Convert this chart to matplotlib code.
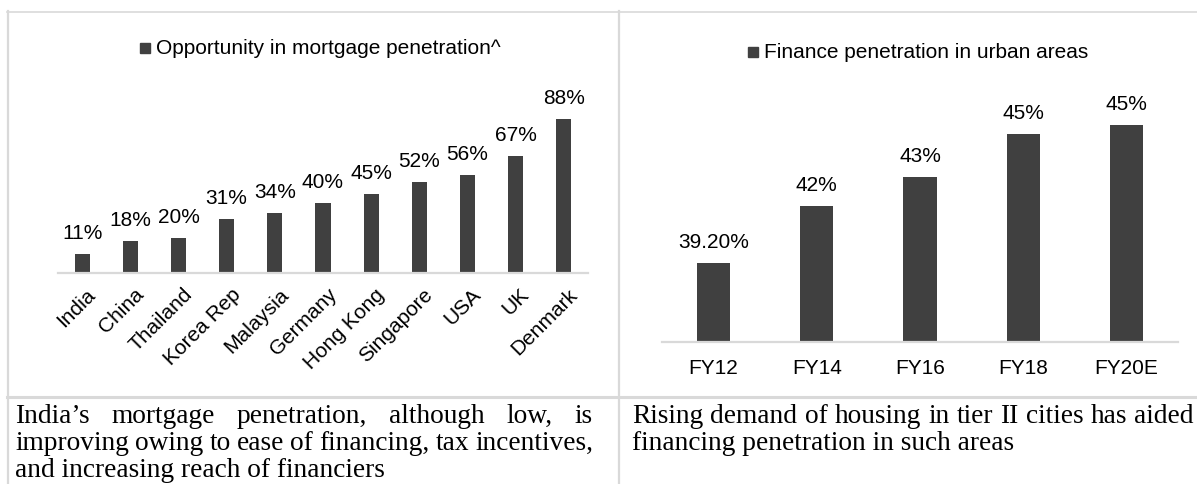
import matplotlib
matplotlib.use("Agg")
import matplotlib.pyplot as plt
from matplotlib.patches import Rectangle
from matplotlib.lines import Line2D

# ---------------- data ----------------
countries = ["India", "China", "Thailand", "Korea Rep", "Malaysia", "Germany",
             "Hong Kong", "Singapore", "USA", "UK", "Denmark"]
mortgage_pct = [11, 18, 20, 31, 34, 40, 45, 52, 56, 67, 88]
mortgage_labels = ["11%", "18%", "20%", "31%", "34%", "40%", "45%", "52%", "56%", "67%", "88%"]
left_legend = "Opportunity in mortgage penetration^"

years = ["FY12", "FY14", "FY16", "FY18", "FY20E"]
urban_pct = [39.2, 41.8, 43.1, 45.1, 45.5]
urban_labels = ["39.20%", "42%", "43%", "45%", "45%"]
right_legend = "Finance penetration in urban areas"

left_caption = ["India\u2019s mortgage penetration, although low, is",
                "improving owing to ease of financing, tax incentives,",
                "and increasing reach of financiers"]
right_caption = ["Rising demand of housing in tier II cities has aided",
                 "financing penetration in such areas"]

# ---------------- style ----------------
W, H = 1197, 484
BAR = "#404040"
GRID = "#d9d9d9"
SANS = "Liberation Sans"
SERIF = "Liberation Serif"
FS = 15

fig = plt.figure(figsize=(W / 100, H / 100), dpi=100)
fig.patch.set_facecolor("white")


def fax(x0, ytop, x1, ybot):
    return [x0 / W, 1 - ybot / H, (x1 - x0) / W, (ybot - ytop) / H]


def fx(x):
    return x / W


def fy(y):
    return 1 - y / H


# ---------------- table lines ----------------
lines = [
    ((7, 1197), (11.5, 11.5), 1.2),
    ((7.5, 7.5), (11, 484), 1.6),
    ((619, 619), (11, 484), 1.6),
    ((7, 1197), (397, 397), 2.2),
]
for xs, ys, lw in lines:
    fig.add_artist(Line2D([fx(x) for x in xs], [fy(y) for y in ys],
                          color=GRID, lw=lw, transform=fig.transFigure))


def style_axes(ax):
    for s in ["top", "left", "right"]:
        ax.spines[s].set_visible(False)
    ax.spines["bottom"].set_color(GRID)
    ax.spines["bottom"].set_linewidth(1.6)
    ax.set_yticks([])
    ax.set_xticks([])
    ax.patch.set_alpha(0)


# ---------------- left chart ----------------
axL = fig.add_axes(fax(58, 60, 588, 273))
style_axes(axL)
xl = list(range(len(countries)))
axL.bar(xl, mortgage_pct, width=0.315, color=BAR)
axL.set_xlim(-0.5, len(countries) - 0.5)
axL.set_ylim(0, 121.7)
for i, (v, lbl) in enumerate(zip(mortgage_pct, mortgage_labels)):
    axL.annotate(lbl, (i, v), xytext=(0, 15), textcoords="offset pixels",
                 ha="center", va="baseline", fontsize=FS, family=SANS, color="black")
for i, c in enumerate(countries):
    axL.annotate(c, (i, 0), xycoords=("data", "axes fraction"), xytext=(4, -12),
                 textcoords="offset pixels", ha="right", va="top", rotation=45,
                 rotation_mode="anchor", fontsize=FS, family=SANS, color="black")

fig.add_artist(Rectangle((fx(140), fy(53)), 9.5 / W, 10 / H, color=BAR,
                         transform=fig.transFigure))
fig.text(fx(156), fy(48), left_legend, ha="left", va="center", fontsize=FS,
         family=SANS, color="black")

# ---------------- right chart ----------------
axR = fig.add_axes(fax(662, 60, 1178, 342))
style_axes(axR)
xr = list(range(len(years)))
axR.bar(xr, urban_pct, width=0.32, color=BAR)
axR.set_xlim(-0.5, len(years) - 0.5)
axR.set_ylim(35.6, 48.45)
for i, (v, lbl) in enumerate(zip(urban_pct, urban_labels)):
    axR.annotate(lbl, (i, v), xytext=(0, 15), textcoords="offset pixels",
                 ha="center", va="baseline", fontsize=FS, family=SANS, color="black")
for i, y in enumerate(years):
    axR.annotate(y, (i, 0), xycoords=("data", "axes fraction"), xytext=(0, -26),
                 textcoords="offset pixels", ha="center", va="center",
                 fontsize=FS, family=SANS, color="black")

fig.add_artist(Rectangle((fx(748), fy(57)), 10 / W, 10 / H, color=BAR,
                         transform=fig.transFigure))
fig.text(fx(764), fy(52), right_legend, ha="left", va="center", fontsize=FS,
         family=SANS, color="black")

# ---------------- captions (justified) ----------------
renderer = fig.canvas.get_renderer()
CAP_FS = 19.7


def place_lines(lines_, x0, x1, baselines):
    for k, (line, yb) in enumerate(zip(lines_, baselines)):
        last = k == len(lines_) - 1
        if last:
            fig.text(fx(x0), fy(yb), line, ha="left", va="baseline",
                     fontsize=CAP_FS, family=SERIF, color="black")
            continue
        words = line.split(" ")
        arts = [fig.text(0, fy(yb), w, ha="left", va="baseline",
                         fontsize=CAP_FS, family=SERIF, color="black") for w in words]
        widths = [a.get_window_extent(renderer).width for a in arts]
        gap = (x1 - x0 - sum(widths)) / max(len(words) - 1, 1)
        x = x0
        for a, w in zip(arts, widths):
            a.set_x(fx(x))
            x += w + gap


place_lines(left_caption, 15, 593, [423, 450, 477])
place_lines(right_caption, 632, 1194, [423, 450])

fig.savefig("out.png", dpi=100, facecolor="white")
